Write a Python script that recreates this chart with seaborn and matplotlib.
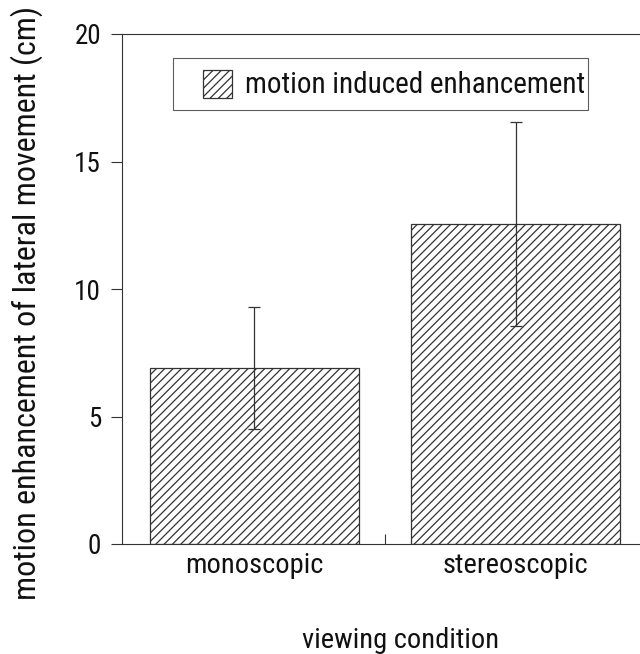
import matplotlib
matplotlib.use("Agg")
import matplotlib.pyplot as plt
import matplotlib.patches as mpatches
from matplotlib.legend_handler import HandlerPatch
import seaborn as sns
import pandas as pd
from matplotlib import font_manager

conditions = ["monoscopic", "stereoscopic"]
enhancement = [6.9, 12.55]
errors = [2.4, 4.0]
yticks = [0, 5, 10, 15, 20]
legend_label = "motion induced enhancement"
xlabel = "viewing condition"
ylabel = "motion enhancement of lateral movement (cm)"

sns.set_theme(style="white")
names = {f.name for f in font_manager.fontManager.ttflist}
fam = [n for n in ["Roboto Condensed", "PT Sans Narrow", "Archivo Narrow", "Liberation Sans"] if n in names][:1]
plt.rcParams["font.family"] = fam + ["DejaVu Sans"]
plt.rcParams["hatch.linewidth"] = 0.9
plt.rcParams["hatch.color"] = "#222222"

INK = "#111111"
LINE = "#333333"
PX = 0.72  # points per pixel at dpi 100

df = pd.DataFrame({"condition": conditions, "value": enhancement})

fig = plt.figure(figsize=(6.4, 6.54), dpi=100)
ax = fig.add_axes([122 / 640, 110 / 654, 523 / 640, 510 / 654])

sns.barplot(data=df, x="condition", y="value", ax=ax, color="white",
            edgecolor=LINE, linewidth=0.9, hatch="////", width=0.8,
            errorbar=None)
ax.errorbar(range(len(conditions)), enhancement, yerr=errors, fmt="none",
            ecolor=LINE, elinewidth=0.9, capsize=4, capthick=0.9)

ax.set_ylim(0, 20)
ax.set_xlim(-0.506, 1.495)
ax.set_yticks(yticks)
ax.set_yticklabels([str(t) for t in yticks], fontsize=19.5)
ax.set_xticks(range(len(conditions)))
ax.set_xticklabels(conditions, fontsize=20.5)
ax.tick_params(axis="x", length=0, pad=6, colors=INK)
ax.tick_params(axis="y", direction="out", length=8, width=0.8, color=LINE,
               pad=7, left=True, labelcolor=INK)
ax.set_xticks([0.5], minor=True)
ax.tick_params(axis="x", which="minor", direction="in", length=7, width=0.8,
               color=LINE, bottom=True)
ax.set_xlabel(xlabel, fontsize=20.5, color=INK)
ax.xaxis.set_label_coords(0.532, -0.162)
ax.set_ylabel(ylabel, fontsize=23, color=INK)
ax.yaxis.set_label_coords(-0.152, 0.4725)

for s in ["left", "bottom", "top"]:
    ax.spines[s].set_visible(True)
    ax.spines[s].set_color(LINE)
    ax.spines[s].set_linewidth(0.8)
ax.spines["right"].set_visible(False)

LFS = 21
sq_w, sq_h = 29 * PX, 28 * PX


def square(legend, orig_handle, xdescent, ydescent, width, height, fontsize):
    return mpatches.Rectangle((-xdescent + width - sq_w, -ydescent + (height - sq_h) / 2),
                              sq_w, sq_h)


handle = mpatches.Patch(facecolor="white", edgecolor=LINE, hatch="////",
                        linewidth=0.9)
leg = ax.legend([handle], [legend_label], loc="upper left",
                bbox_to_anchor=(0.098, 0.953), fontsize=LFS, frameon=True,
                fancybox=False, edgecolor=LINE,
                handler_map={mpatches.Patch: HandlerPatch(patch_func=square)},
                handlelength=56 * PX / LFS, handleheight=60 * PX / LFS,
                borderpad=0.1, handletextpad=13 * PX / LFS,
                borderaxespad=0, labelcolor=INK)
leg.get_frame().set_linewidth(0.8)

fig.savefig("out.png", dpi=100)
